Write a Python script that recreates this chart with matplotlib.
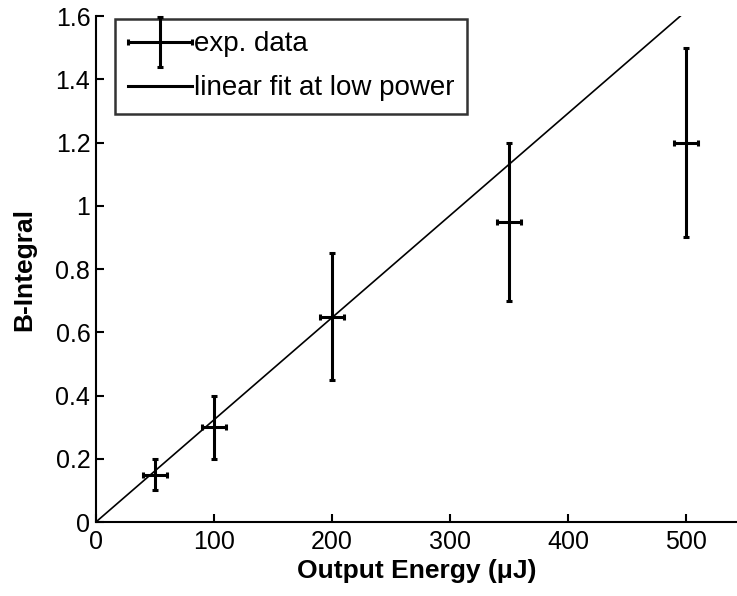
import numpy as np
import matplotlib
matplotlib.use('Agg')
import matplotlib.pyplot as plt
from matplotlib.container import ErrorbarContainer
from matplotlib.legend_handler import HandlerErrorbar

plt.rcParams['font.family'] = ['Liberation Sans', 'DejaVu Sans']

# data
energy = [50, 100, 200, 350, 500]
b_int = [0.15, 0.30, 0.65, 0.95, 1.20]
b_err = [0.05, 0.10, 0.20, 0.25, 0.30]
energy_err = [10, 10, 10, 10, 10]

fit_x = [0, 495]
fit_slope = 1.6 / 495

fig = plt.figure(figsize=(7.37, 5.96), dpi=100)
ax = fig.add_axes([0.130, 0.124, 0.87, 0.849])

eb = ax.errorbar(energy, b_int, yerr=b_err, xerr=energy_err, fmt='none',
                 ecolor='black', elinewidth=2.2, capsize=2, capthick=2.2,
                 label='exp. data')
fit, = ax.plot(fit_x, [fit_slope * x for x in fit_x], color='black', lw=1.2,
               label='linear fit at low power')

ax.set_xlim(0, 543)
ax.set_ylim(0, 1.6)
ax.set_xticks([0, 100, 200, 300, 400, 500])
ax.set_yticks([0, 0.2, 0.4, 0.6, 0.8, 1, 1.2, 1.4, 1.6])
ax.set_yticklabels(['0', '0.2', '0.4', '0.6', '0.8', '1', '1.2', '1.4', '1.6'])
ax.tick_params(direction='in', length=6, width=1.5, labelsize=18)
ax.tick_params(axis='x', pad=6)
ax.tick_params(axis='y', pad=4)
for s in ['top', 'right']:
    ax.spines[s].set_visible(False)
for s in ['left', 'bottom']:
    ax.spines[s].set_linewidth(1.5)

ax.set_xlabel('Output Energy (μJ)', fontsize=19, fontweight='bold', labelpad=3)
ax.set_ylabel('B-Integral', fontsize=19, fontweight='bold', labelpad=14)

leg = ax.legend([eb, fit], ['exp. data', 'linear fit at low power'],
                loc='upper left', bbox_to_anchor=(0.026, 1.0), fontsize=20,
                frameon=True, fancybox=False, edgecolor='black',
                handlelength=2.3, handletextpad=0.1, borderpad=0.45,
                labelspacing=0.65, borderaxespad=0.1,
                handler_map={ErrorbarContainer: HandlerErrorbar(xerr_size=1.15, yerr_size=0.9)})
leg.get_frame().set_linewidth(1.8)
leg.legend_handles[1].set_linewidth(2.2)

plt.savefig('out.png', dpi=100)
